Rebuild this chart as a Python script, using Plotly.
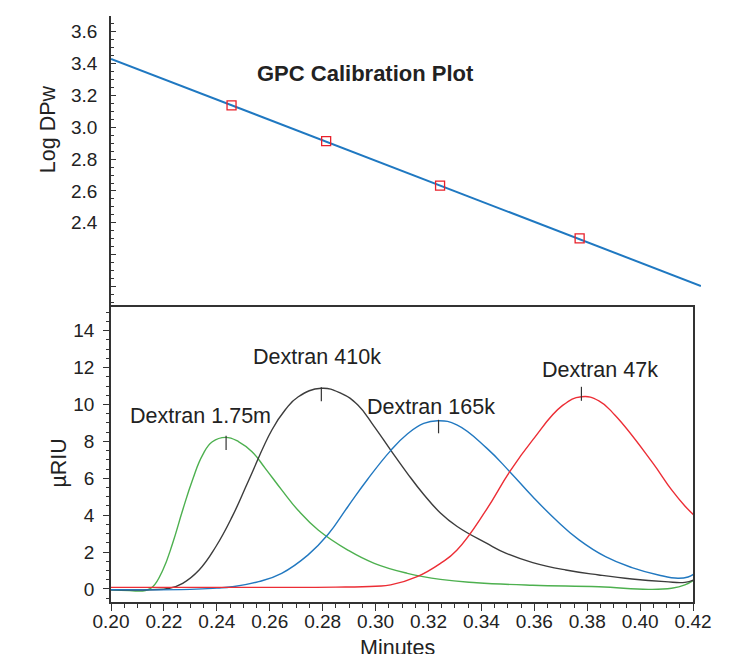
import plotly.graph_objects as go

# ---------------- data ----------------
# Calibration (top panel)
cal_x = [0.2456, 0.2814, 0.3245, 0.3773]
cal_logdp = [3.138, 2.913, 2.633, 2.302]
fit_x = [0.200, 0.4232]
fit_y = [3.43, 2.003]

# Chromatograms (bottom panel)
green_t = [0.200, 0.207, 0.213, 0.2158, 0.2196, 0.2233, 0.2271, 0.2308, 0.2346, 0.2383,
           0.2433, 0.2483, 0.2533, 0.2583, 0.2645, 0.2708, 0.2783, 0.2895,
           0.2995, 0.312, 0.3245, 0.3382, 0.3594, 0.3844, 0.4031, 0.4119, 0.4169, 0.4203]
green_v = [-0.05, -0.09, -0.08, 0.12, 1.03, 2.48, 4.28, 5.91, 7.26, 7.98,
           8.22, 7.98, 7.44, 6.54, 5.37, 4.25, 3.2, 2.11,
           1.39, 0.85, 0.52, 0.34, 0.2, 0.12, -0.02, 0.04, 0.22, 0.49]

black_t = [0.200, 0.215, 0.2221, 0.2271, 0.2333, 0.2396, 0.2458, 0.2521, 0.2608,
           0.2658, 0.2708, 0.2795, 0.287, 0.2933, 0.2995, 0.3057, 0.312, 0.3182,
           0.3245, 0.3307, 0.3419, 0.3494, 0.3594, 0.3719, 0.3844, 0.3969, 0.4094,
           0.4169, 0.4203]
black_v = [-0.04, -0.04, 0.04, 0.31, 1.03, 2.29, 3.92, 5.91, 8.62,
           9.7, 10.42, 10.88, 10.6, 9.97, 8.8, 7.53, 6.27, 5.12,
           4.12, 3.4, 2.48, 1.93, 1.43, 1.03, 0.76, 0.54, 0.4,
           0.36, 0.5]

blue_t = [0.200, 0.230, 0.240, 0.2458, 0.2558, 0.2645, 0.2745, 0.282, 0.2895, 0.297,
          0.3057, 0.312, 0.3182, 0.3238, 0.3307, 0.3419, 0.3507, 0.3594, 0.3682, 0.3769,
          0.3869, 0.3969, 0.4069, 0.4143, 0.4181, 0.4203]
blue_v = [-0.04, -0.02, 0.05, 0.12, 0.4, 0.85, 1.85, 2.95, 4.46, 5.95,
          7.5, 8.4, 8.98, 9.12, 8.9, 7.65, 6.36, 5.0, 3.74, 2.66,
          1.75, 1.16, 0.76, 0.58, 0.65, 0.81]

red_t = [0.200, 0.250, 0.285, 0.300, 0.3057, 0.3157, 0.3245, 0.3307, 0.3419,
         0.3507, 0.3594, 0.3707, 0.3778, 0.3844, 0.3906, 0.4044,
         0.4119, 0.4169, 0.4203]
red_v = [0.09, 0.09, 0.1, 0.15, 0.22, 0.67, 1.39, 2.1, 4.3,
         6.36, 8.08, 9.95, 10.42, 10.2, 9.4, 6.9,
         5.37, 4.5, 4.01]

peak_names = ["Dextran 1.75m", "Dextran 410k", "Dextran 165k", "Dextran 47k"]
peak_t = [0.2435, 0.2795, 0.3238, 0.3778]
peak_v = [8.22, 10.88, 9.12, 10.42]

x_ticks = [0.20, 0.22, 0.24, 0.26, 0.28, 0.30, 0.32, 0.34, 0.36, 0.38, 0.40, 0.42]
top_ticks = [2.0, 2.2, 2.4, 2.6, 2.8, 3.0, 3.2, 3.4, 3.6]
top_ticklabels = ["", "", "2.4", "2.6", "2.8", "3.0", "3.2", "3.4", "3.6"]

# ---------------- style ----------------
FONT = "Arial, 'Liberation Sans', sans-serif"
AX = "#333333"
TXT = "#222222"
label_shift = [(-25.6, 21.6), (-4.3, 31.2), (-8.0, 13.7), (19.0, 26.5)]  # px offsets of labels
tick_span = [(0.08, -0.68), (0.05, -0.70), (0.05, -0.68), (0.54, -0.22)]  # peak tick extents

fig = go.Figure()

curves = [(green_t, green_v, "#4db04f"), (black_t, black_v, "#3c3c3c"),
          (blue_t, blue_v, "#2178c0"), (red_t, red_v, "#ec2d35")]
for t, v, c in curves:
    fig.add_trace(go.Scatter(x=t, y=v, mode="lines",
                             line=dict(color=c, width=1.4, shape="spline", smoothing=1.3),
                             xaxis="x", yaxis="y", showlegend=False, hoverinfo="skip"))

# peak tick marks
tx, ty = [], []
for pt, pv, (a, b) in zip(peak_t, peak_v, tick_span):
    tx += [pt, pt, None]
    ty += [pv + a, pv + b, None]
fig.add_trace(go.Scatter(x=tx, y=ty, mode="lines", line=dict(color="#333333", width=1.2),
                         xaxis="x", yaxis="y", showlegend=False, hoverinfo="skip"))

# calibration line and points
fig.add_trace(go.Scatter(x=fit_x, y=fit_y, mode="lines", line=dict(color="#1f78c1", width=2),
                         xaxis="x2", yaxis="y2", showlegend=False, hoverinfo="skip"))
fig.add_trace(go.Scatter(x=cal_x, y=cal_logdp, mode="markers",
                         marker=dict(symbol="square-open", size=9, color="#e8202a", line=dict(width=1.3)),
                         xaxis="x2", yaxis="y2", showlegend=False, hoverinfo="skip"))

annotations = []
for name, pt, pv, (dx, dy) in zip(peak_names, peak_t, peak_v, label_shift):
    annotations.append(dict(x=pt, y=pv, xref="x", yref="y", text=name, showarrow=False,
                            xshift=dx, yshift=dy, xanchor="center", yanchor="middle",
                            font=dict(family=FONT, size=21.5, color=TXT)))

annotations += [
    dict(x=0.4312, y=0.9019, xref="paper", yref="paper", text="<b>GPC Calibration Plot</b>",
         showarrow=False, xanchor="center", yanchor="middle", font=dict(family=FONT, size=22, color=TXT)),
    dict(x=-0.1065, y=0.8072, xref="paper", yref="paper", text="Log DPw", textangle=-90,
         showarrow=False, xanchor="center", yanchor="middle", font=dict(family=FONT, size=21.5, color=TXT)),
    dict(x=-0.0889, y=0.2372, xref="paper", yref="paper", text="µRIU", textangle=-90,
         showarrow=False, xanchor="center", yanchor="middle", font=dict(family=FONT, size=21.5, color=TXT)),
    dict(x=0.4849, y=-0.0785, xref="paper", yref="paper", text="Minutes",
         showarrow=False, xanchor="center", yanchor="middle", font=dict(family=FONT, size=21.5, color=TXT)),
]

fig.update_layout(
    width=731, height=654,
    margin=dict(l=111, r=24, t=16, b=52),
    paper_bgcolor="white", plot_bgcolor="white",
    font=dict(family=FONT, color=TXT),
    annotations=annotations,
    xaxis=dict(domain=[0, 0.98658], range=[0.2, 0.42], anchor="y",
               tickvals=x_ticks, ticktext=[f"{v:.2f}" for v in x_ticks],
               ticks="outside", ticklen=7, tickwidth=1.2, tickcolor=AX,
               minor=dict(dtick=0.005, tick0=0.2, ticks="outside", ticklen=4, tickcolor=AX, tickwidth=1),
               showline=True, linecolor=AX, linewidth=1.5, mirror=True,
               showgrid=False, zeroline=False, ticklabelstandoff=-6,
               tickfont=dict(size=19, color=TXT)),
    yaxis=dict(domain=[0, 0.5034], range=[-0.705, 15.285], anchor="x",
               tick0=0, dtick=2, ticks="outside", ticklen=6, tickwidth=1.2, tickcolor=AX,
               minor=dict(dtick=0.5, ticks="outside", ticklen=3, tickcolor=AX, tickwidth=1),
               showline=True, linecolor=AX, linewidth=1.5, mirror=True,
               showgrid=False, zeroline=False, ticklabelstandoff=5,
               tickfont=dict(size=19, color=TXT)),
    xaxis2=dict(domain=[0, 1], range=[0.2, 0.42322], anchor="y2", visible=False),
    yaxis2=dict(domain=[0.5034, 1], range=[1.871, 3.699], anchor="x2",
                tickvals=top_ticks, ticktext=top_ticklabels,
                ticks="inside", ticklen=5, tickwidth=1.2, tickcolor=AX,
                minor=dict(dtick=0.05, ticks="inside", ticklen=3, tickcolor=AX, tickwidth=1),
                showline=True, linecolor=AX, linewidth=1.5,
                showgrid=False, zeroline=False, ticklabelstandoff=8,
                tickfont=dict(size=19, color=TXT)),
)

fig.write_html("out.html")
